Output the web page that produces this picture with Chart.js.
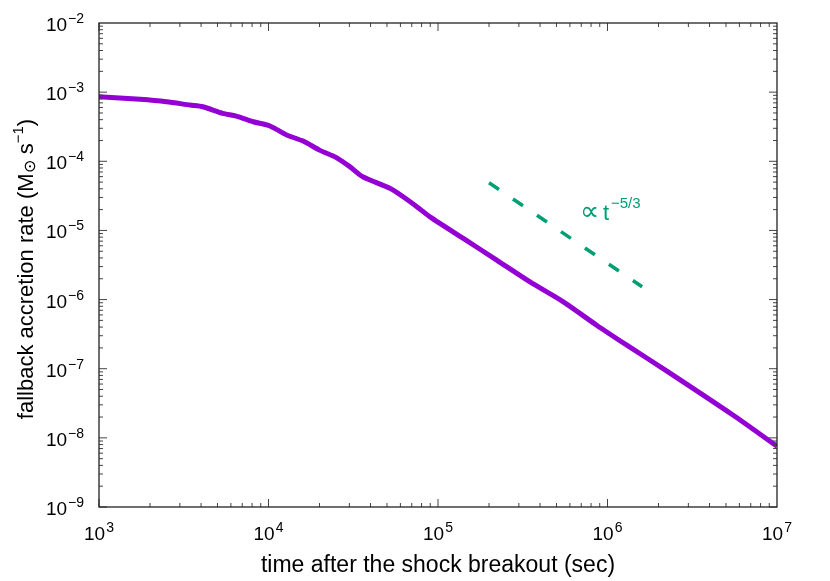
<!DOCTYPE html>
<html>
<head>
<meta charset="utf-8">
<title>fallback accretion rate</title>
<script src="https://cdn.jsdelivr.net/npm/chart.js@4"></script>
<style>
  html, body { margin: 0; padding: 0; background: #fff; }
  canvas { display: block; }
</style>
</head>
<body>
<canvas id="c" width="830" height="581"></canvas>
<script>
// ── data ──────────────────────────────────────────────
const timeSec = [1e3, 1.75e3, 2.5e3, 3.44e3, 4.1e3, 5.37e3, 6.46e3, 8.13e3,
                 1.02e4, 1.28e4, 1.6e4, 2.0e4, 2.5e4, 3.03e4, 3.6e4, 5.2e4,
                 6.2e4, 7.84e4, 8.97e4, 1.41e5, 2.22e5, 3.49e5, 5.49e5, 8.63e5,
                 1.3e6, 2.23e6, 5.52e6, 1e7];
const rate    = [8.6e-4, 7.87e-4, 7.26e-4, 6.5e-4, 6.15e-4, 4.93e-4, 4.5e-4, 3.73e-4,
                 3.24e-4, 2.4e-4, 1.96e-4, 1.45e-4, 1.14e-4, 8.3e-5, 5.97e-5, 4.07e-5,
                 3.09e-5, 2.03e-5, 1.57e-5, 7.66e-6, 3.72e-6, 1.80e-6, 9.27e-7, 4.26e-7,
                 2.19e-7, 9.3e-8, 2.12e-8, 7.55e-9];
// t^-5/3 guide line
const guideT    = [2.0e5, 1.6e6];
const guideRate = [4.9e-5, 1.53e-6];

const xTickExp = ['3', '4', '5', '6', '7'];
const yTickExp = ['\u22122', '\u22123', '\u22124', '\u22125', '\u22126', '\u22127', '\u22128', '\u22129'];
const yTickVal = [1e-2, 1e-3, 1e-4, 1e-5, 1e-6, 1e-7, 1e-8, 1e-9];
const xTickVal = [1e3, 1e4, 1e5, 1e6, 1e7];

const PURPLE = '#9400d3';
const GREEN  = '#009e73';
const FONT   = '"Liberation Sans", Arial, Helvetica, sans-serif';

// ── draw "10^n" with a real superscript ─────────────────
function powLabel(ctx, exp, x, y, align) {
    ctx.font = '19px ' + FONT;
    const wb = ctx.measureText('10').width;
    ctx.font = '14px ' + FONT;
    const we = ctx.measureText(exp).width;
    const tot = wb + 1 + we;
    const x0 = align === 'right' ? x - tot : x - tot / 2;
    ctx.textAlign = 'left';
    ctx.font = '19px ' + FONT;
    ctx.fillText('10', x0, y);
    ctx.font = '14px ' + FONT;
    ctx.fillText(exp, x0 + wb + 1, y - 8);
}

const framePlugin = {
    id: 'gnuFrame',
    afterDatasetsDraw(chart) {
        const { ctx, chartArea: a, scales } = chart;
        const xs = scales.x, ys = scales.y;
        ctx.save();

        // ticks (inward, mirrored)
        ctx.lineWidth = 1;
        ctx.strokeStyle = '#444';
        ctx.beginPath();
        for (let e = 3; e <= 6; e++) {
            for (let m = 1; m <= 9; m++) {
                const px = xs.getPixelForValue(m * Math.pow(10, e));
                const len = m === 1 ? 8 : 4;
                ctx.moveTo(px, a.bottom); ctx.lineTo(px, a.bottom - len);
                ctx.moveTo(px, a.top);    ctx.lineTo(px, a.top + len);
            }
        }
        for (let e = -9; e <= -3; e++) {
            for (let m = 1; m <= 9; m++) {
                const py = ys.getPixelForValue(m * Math.pow(10, e));
                const len = m === 1 ? 8 : 4;
                ctx.moveTo(a.left, py);  ctx.lineTo(a.left + len, py);
                ctx.moveTo(a.right, py); ctx.lineTo(a.right - len, py);
            }
        }
        ctx.stroke();

        ctx.strokeStyle = '#222';
        ctx.lineWidth = 1.3;
        ctx.strokeRect(a.left, a.top, a.right - a.left, a.bottom - a.top);

        // tick labels
        ctx.fillStyle = '#000';
        ctx.textBaseline = 'alphabetic';
        xTickVal.forEach((v, i) => powLabel(ctx, xTickExp[i], xs.getPixelForValue(v), a.bottom + 33, 'center'));
        yTickVal.forEach((v, i) => powLabel(ctx, yTickExp[i], a.left - 15, ys.getPixelForValue(v) + 8, 'right'));

        // x title
        ctx.font = '23px ' + FONT;
        ctx.textAlign = 'center';
        ctx.fillText('time after the shock breakout (sec)', (a.left + a.right) / 2, 572);

        // y title (rotated, with M⊙ and s^-1)
        ctx.save();
        ctx.translate(33, 269);
        ctx.rotate(-Math.PI / 2);
        const parts = [
            { t: 'fallback accretion rate (M', f: 22, dy: 0 },
            { t: '\u2299', f: 16, dy: 2 },
            { t: ' s', f: 22, dy: 0 },
            { t: '\u22121', f: 15, dy: -10 },
            { t: ')', f: 22, dy: 0 }
        ];
        let w = 0;
        parts.forEach(p => { ctx.font = p.f + 'px ' + FONT; p.w = ctx.measureText(p.t).width; w += p.w; });
        let cx = -w / 2;
        ctx.textAlign = 'left';
        parts.forEach(p => { ctx.font = p.f + 'px ' + FONT; ctx.fillText(p.t, cx, p.dy); cx += p.w; });
        ctx.restore();

        // annotation ∝ t^-5/3
        ctx.fillStyle = GREEN;
        ctx.textAlign = 'left';
        ctx.font = '27px "DejaVu Sans", sans-serif';
        ctx.fillText('\u221D', 580, 220);
        ctx.font = '22px ' + FONT;
        ctx.fillText('t', 603, 220);
        ctx.font = '15px ' + FONT;
        ctx.fillText('\u22125/3', 611, 208);
        ctx.restore();
    }
};

new Chart(document.getElementById('c'), {
    type: 'line',
    data: {
        datasets: [
            {
                label: 'fallback',
                data: timeSec.map((t, i) => ({ x: t, y: rate[i] })),
                borderColor: PURPLE,
                borderWidth: 5,
                pointRadius: 0,
                tension: 0.25,
                fill: false
            },
            {
                label: 't^-5/3',
                data: guideT.map((t, i) => ({ x: t, y: guideRate[i] })),
                borderColor: GREEN,
                borderWidth: 3.5,
                borderDash: [12, 17],
                borderCapStyle: 'butt',
                pointRadius: 0,
                fill: false
            }
        ]
    },
    options: {
        responsive: false,
        animation: false,
        layout: { padding: { left: 99, top: 23, right: 53, bottom: 74 } },
        plugins: { legend: { display: false }, tooltip: { enabled: false } },
        scales: {
            x: { type: 'logarithmic', min: 1e3, max: 1e7, display: false },
            y: { type: 'logarithmic', min: 1e-9, max: 1e-2, display: false }
        }
    },
    plugins: [framePlugin]
});
</script>
</body>
</html>
